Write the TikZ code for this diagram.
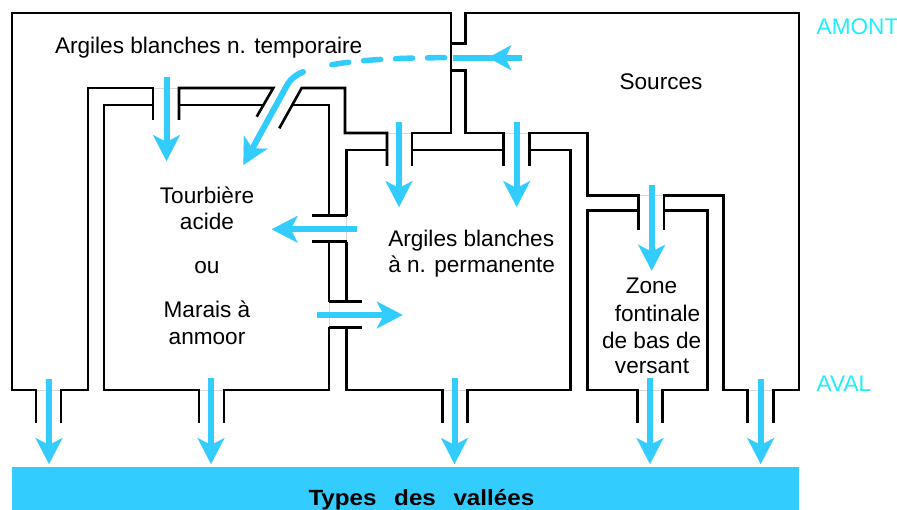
\documentclass[tikz,border=0pt]{standalone}
\usepackage{fontspec}
\setmainfont{Liberation Sans}
\usetikzlibrary{arrows.meta}
\definecolor{flowblue}{RGB}{51,204,255}
\definecolor{labcyan}{RGB}{30,238,250}
\begin{document}
\begin{tikzpicture}[x=1pt,y=-1pt,
  wall/.style={line width=2.6pt, line cap=butt, line join=miter},
  gapline/.style={gray!30, line width=0.6pt},
  flow/.style={color=flowblue, line width=6pt, -{Stealth[length=26pt,width=27pt,inset=7pt,line width=0.1pt]}},
  lbl/.style={font=\fontsize{22.6}{26}\selectfont, inner sep=0pt, outer sep=0pt}]
\fill[white] (0,0) rectangle (897,510);
\useasboundingbox (0,0) rectangle (897,510);
% valley bar
\fill[flowblue] (12,466.7) rectangle (799,510);
% faint lines across openings
\draw[gapline] (153,88) -- (179,88) (387,133) -- (412,133) (503.3,133) -- (529.3,133)
  (638.3,195.7) -- (664,195.7) (36,390) -- (61,390) (199,390) -- (224,390)
  (442.7,390) -- (467.7,390) (637.7,390) -- (662.7,390) (747.3,390) -- (773.3,390)
  (346.7,215.7) -- (346.7,241.7) (329,301.7) -- (329,327.3);
% A : argiles temporaire
\draw[wall] (153,120) -- (153,88) -- (88,88) -- (88,390) -- (61,390) -- (61,423);
\draw[wall] (36,423) -- (36,390) -- (12,390) -- (12,13) -- (451,13) -- (451,133) -- (412,133) -- (412,166);
\draw[wall] (387,166) -- (387,133) -- (345,133) -- (345,88) -- (301.7,88) -- (279.3,128.3);
\draw[wall] (256.7,116.7) -- (273.3,88) -- (179,88) -- (179,120);
% B : tourbiere
\draw[wall] (153,105) -- (104,105) -- (104,390) -- (199,390) -- (199,423);
\draw[wall] (224,423) -- (224,390) -- (329,390) -- (329,327.3);
\draw[wall] (329,301.7) -- (329,241.7);
\draw[wall] (329,215.7) -- (329,105) -- (292.4,105);
\draw[wall] (263.6,105) -- (179,105);
\draw[wall] (312.3,215.7) -- (347.3,215.7) (312.3,241.7) -- (347.3,241.7);
\draw[wall] (329,301.7) -- (362,301.7) (329,327.3) -- (362,327.3);
% C : argiles permanente
\draw[wall] (387,150) -- (346.7,150) -- (346.7,215.7);
\draw[wall] (346.7,241.7) -- (346.7,301.7);
\draw[wall] (346.7,327.3) -- (346.7,390) -- (442.7,390) -- (442.7,423);
\draw[wall] (467.7,423) -- (467.7,390) -- (570.5,390) -- (570.5,150) -- (529.3,150);
\draw[wall] (503.3,150) -- (412,150);
% D : sources
\draw[wall] (503.3,166) -- (503.3,133) -- (465.7,133) -- (465.7,70.7) -- (451,70.7);
\draw[wall] (451,43.3) -- (465.7,43.3) -- (465.7,13) -- (799,13) -- (799,390) -- (773.3,390) -- (773.3,423);
\draw[wall] (747.3,423) -- (747.3,390) -- (723.3,390) -- (723.3,195.7) -- (664,195.7) -- (664,230);
\draw[wall] (638.3,230) -- (638.3,195.7) -- (587.5,195.7) -- (587.5,133) -- (529.3,133) -- (529.3,166);
% E : zone fontinale
\draw[wall] (638.3,210.7) -- (587.5,210.7) -- (587.5,390) -- (637.7,390) -- (637.7,423);
\draw[wall] (662.7,423) -- (662.7,390) -- (707.3,390) -- (707.3,210.7) -- (664,210.7);
% flows
\draw[flow] (166.5,77) -- (166.5,161);
\draw[flow] (399,122) -- (399,207);
\draw[flow] (516.7,122) -- (516.7,207);
\draw[flow] (651.7,185) -- (651.7,270.7);
\draw[flow] (356.7,229.3) -- (271.7,229.3);
\draw[flow] (316.7,315) -- (402.7,315);
\draw[flow] (49,379) -- (49,464);
\draw[flow] (211,378) -- (211,464);
\draw[flow] (454.5,378) -- (454.5,464);
\draw[flow] (650,378) -- (650,464);
\draw[flow] (760.7,379) -- (760.7,464);
% flow from sources to tourbiere
\draw[flowblue, line width=6pt] (453,57.7) -- (521.7,57.7);
\draw[flowblue, line width=6pt, -{Stealth[length=23pt,width=25pt,inset=6pt,line width=0.1pt]}] (521.7,57.7) -- (488.3,57.7);
\draw[flowblue, line width=5.5pt, line cap=round, dash pattern=on 17pt off 15pt] (444.5,57.7) .. controls (395,57.8) and (350,60) .. (318,67.5);
\draw[flow, line cap=round] (303,72) .. controls (294,75.5) and (288.5,81.5) .. (285.5,88) -- (243.3,165);
% labels
\node[lbl, anchor=base west] (tempo) at (55,54) {Argiles blanches n. temporaire};
\node[lbl, anchor=base] (src) at (661,90) {Sources};
\node[lbl, anchor=base west, text=labcyan] (amont) at (816.7,35) {AMONT};
\node[lbl, anchor=base west, text=labcyan] (aval) at (816.7,391.7) {AVAL};
\node[lbl, anchor=base] (t1) at (207,203.3) {Tourbière};
\node[lbl, anchor=base] (t2) at (207,229.3) {acide};
\node[lbl, anchor=base] (t3) at (207,273.3) {ou};
\node[lbl, anchor=base] (t4) at (207,317.7) {Marais à};
\node[lbl, anchor=base] (t5) at (207,344.3) {anmoor};
\node[lbl, anchor=base west] (p1) at (388.3,246.7) {Argiles blanches};
\node[lbl, anchor=base west] (p2) at (388.3,272.7) {à n. permanente};
\node[lbl, anchor=base] (z1) at (651.5,293.3) {Zone};
\node[lbl, anchor=base] (z2) at (657.5,321.7) {fontinale};
\node[lbl, anchor=base] (z3) at (651.7,348.3) {de bas de};
\node[lbl, anchor=base] (z4) at (652,374) {versant};
\node[anchor=base west, inner sep=0pt] (types) at (308.3,505) {\scalebox{1.1}[1]{\fontsize{22}{26}\selectfont\bfseries Types\hspace{16pt}des\hspace{16pt}vallées}};
\end{tikzpicture}
\end{document}
